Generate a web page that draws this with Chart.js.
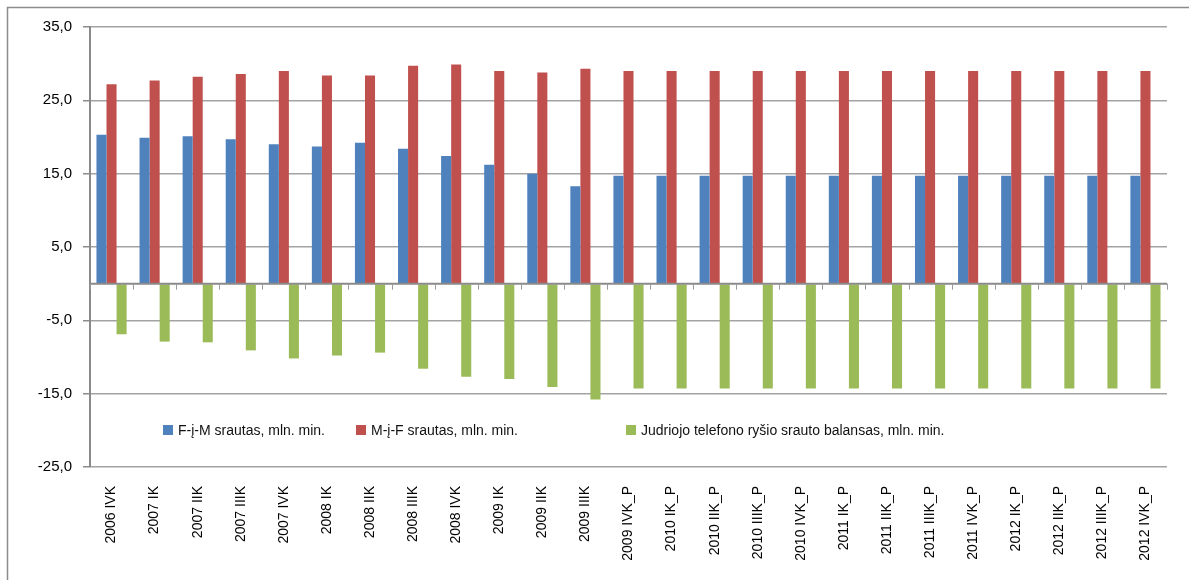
<!DOCTYPE html>
<html><head><meta charset="utf-8">
<script src="https://cdn.jsdelivr.net/npm/chart.js@4/dist/chart.umd.min.js"></script>
<style>html,body{margin:0;padding:0;background:#fff;overflow:hidden}</style>
</head><body>
<canvas id="c" width="1189" height="580" style="display:block;width:1189px;height:580px"></canvas>
<script>
const categories = ["2006 IVK","2007 IK","2007 IIK","2007 IIIK","2007 IVK","2008 IK","2008 IIK","2008 IIIK","2008 IVK","2009 IK","2009 IIK","2009 IIIK","2009 IVK_P","2010 IK_P","2010 IIK_P","2010 IIIK_P","2010 IVK_P","2011 IK_P","2011 IIK_P","2011 IIIK_P","2011 IVK_P","2012 IK_P","2012 IIK_P","2012 IIIK_P","2012 IVK_P"];
const fimValues = [20.3,19.9,20.1,19.7,19.0,18.7,19.2,18.4,17.4,16.2,15.0,13.3,14.7,14.7,14.7,14.7,14.7,14.7,14.7,14.7,14.7,14.7,14.7,14.7,14.7];
const mifValues = [27.2,27.7,28.2,28.6,29.0,28.4,28.4,29.7,29.9,29.0,28.8,29.3,29.0,29.0,29.0,29.0,29.0,29.0,29.0,29.0,29.0,29.0,29.0,29.0,29.0];
const balanceValues = [-6.9,-7.9,-8.0,-9.1,-10.2,-9.8,-9.4,-11.6,-12.7,-13.0,-14.1,-15.8,-14.3,-14.3,-14.3,-14.3,-14.3,-14.3,-14.3,-14.3,-14.3,-14.3,-14.3,-14.3,-14.3];
const seriesLabels = ["F-į-M srautas, mln. min.","M-į-F srautas, mln. min.","Judriojo telefono ryšio srauto balansas, mln. min."];
const seriesColors = ["#4F81BD","#C0504D","#9BBB59"];
const yTickValues = [-25,-15,-5,0,5,15,25,35];

const FONT = "'Liberation Sans Narrow','Liberation Sans',sans-serif";

const framePlugin = {
  id: 'frame',
  beforeDraw(chart) {
    const ctx = chart.ctx;
    ctx.save();
    ctx.fillStyle = '#fff';
    ctx.fillRect(0,0,chart.width,chart.height);
    ctx.strokeStyle = '#8c8c8c';
    ctx.lineWidth = 1.5;
    ctx.beginPath();
    ctx.moveTo(7.5, chart.height);
    ctx.lineTo(7.5, 7.5);
    ctx.lineTo(chart.width, 7.5);
    ctx.stroke();
    ctx.restore();
  }
};

const zeroTicksPlugin = {
  id: 'zeroTicks',
  afterDatasetsDraw(chart) {
    const ctx = chart.ctx, xs = chart.scales.x, ys = chart.scales.y;
    const y0 = ys.getPixelForValue(0);
    const step = xs.getPixelForValue(1) - xs.getPixelForValue(0);
    ctx.save();
    ctx.strokeStyle = '#8a8a8a';
    ctx.lineWidth = 2;
    ctx.beginPath();
    ctx.moveTo(chart.chartArea.left, y0);
    ctx.lineTo(chart.chartArea.right, y0);
    ctx.stroke();
    ctx.strokeStyle = '#9a9a9a';
    ctx.lineWidth = 1;
    for (let i = 0; i <= categories.length; i++) {
      const x = Math.round(xs.getPixelForValue(0) - step/2 + i*step) + 0.5;
      ctx.beginPath();
      ctx.moveTo(x, y0);
      ctx.lineTo(x, y0 + 6);
      ctx.stroke();
    }
    ctx.restore();
  }
};

const legendPlugin = {
  id: 'innerLegend',
  afterDraw(chart) {
    const ctx = chart.ctx;
    const xsPos = [163, 356, 626];
    const y = 425;
    ctx.save();
    ctx.font = "14px " + FONT;
    ctx.textBaseline = 'middle';
    ctx.fillStyle = '#000';
    chart.data.datasets.forEach((ds, i) => {
      ctx.fillStyle = ds.backgroundColor;
      ctx.fillRect(xsPos[i], y, 10, 10);
      ctx.fillStyle = '#111';
      ctx.fillText(ds.label, xsPos[i] + 15, y + 6);
    });
    ctx.restore();
  }
};

new Chart(document.getElementById('c'), {
  type: 'bar',
  data: {
    labels: categories,
    datasets: [
      {label: seriesLabels[0], data: fimValues, backgroundColor: seriesColors[0]},
      {label: seriesLabels[1], data: mifValues, backgroundColor: seriesColors[1]},
      {label: seriesLabels[2], data: balanceValues, backgroundColor: seriesColors[2]}
    ]
  },
  options: {
    responsive: false,
    animation: false,
    devicePixelRatio: 1,
    categoryPercentage: 0.7,
    barPercentage: 1.0,
    layout: {padding: {top: 27, right: 22, left: 0, bottom: 0}},
    plugins: {legend: {display: false}, tooltip: {enabled: false}},
    scales: {
      x: {
        grid: {display: false, drawTicks: false},
        border: {display: false},
        ticks: {
          autoSkip: false, minRotation: 90, maxRotation: 90, padding: 19,
          color: '#000', font: {family: FONT, size: 14}
        },
        afterFit(s) { s.height = 113; }
      },
      y: {
        min: -25, max: 35,
        afterBuildTicks(s) { s.ticks = yTickValues.map(v => ({value: v})); },
        grid: {
          color: c => c.tick && c.tick.value === 0 ? 'rgba(0,0,0,0)' : '#a3a3a3',
          tickColor: c => c.tick && c.tick.value === 0 ? 'rgba(0,0,0,0)' : '#8c8c8c',
          lineWidth: 1.5, tickLength: 7
        },
        border: {color: '#8a8a8a', width: 2},
        ticks: {
          padding: 11, color: '#000', font: {family: FONT, size: 15},
          callback: v => v === 0 ? '' : v.toFixed(1).replace('.', ',')
        },
        afterFit(s) { s.width = 90; }
      }
    }
  },
  plugins: [framePlugin, zeroTicksPlugin, legendPlugin]
});
</script>
</body></html>
